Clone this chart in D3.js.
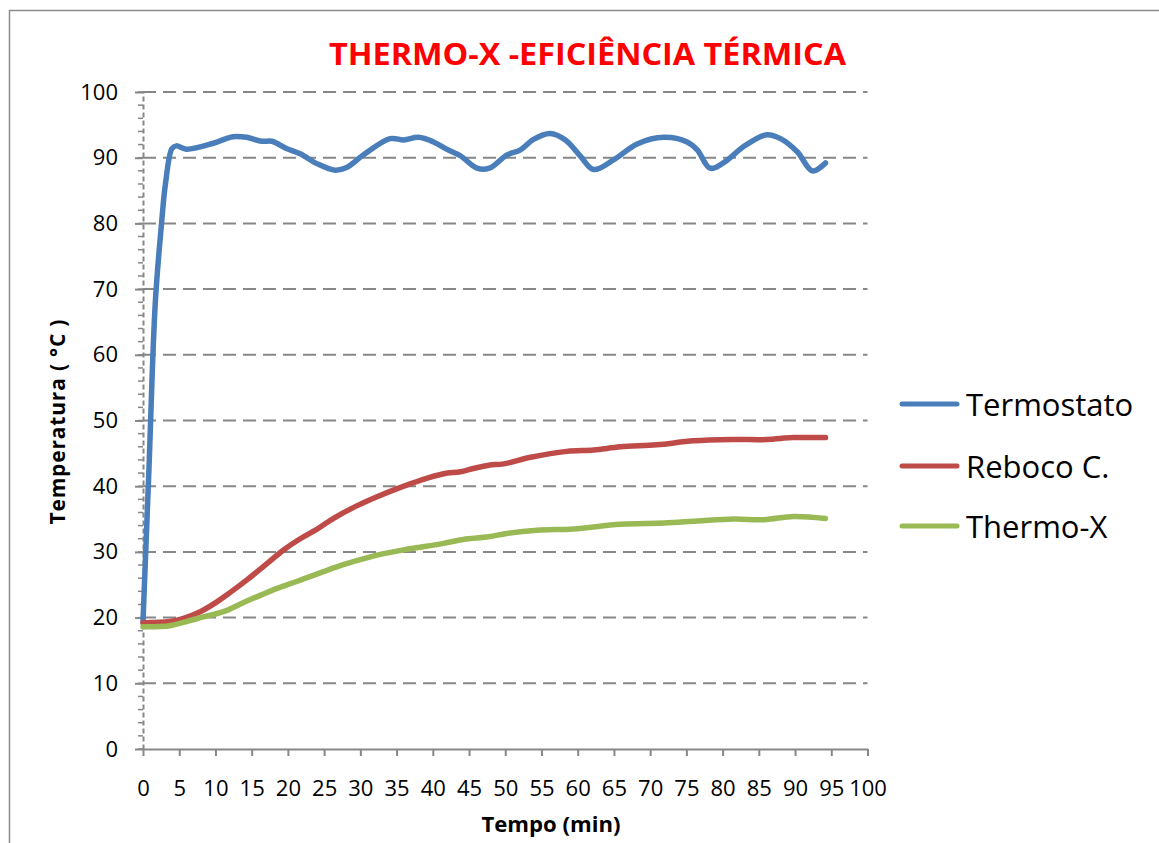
<!DOCTYPE html>
<html>
<head>
<meta charset="utf-8">
<script src="https://cdn.jsdelivr.net/npm/d3@7"></script>
<style>
  body { margin: 0; background: #fff; }
  text { font-family: "Open Sans", "Noto Sans", sans-serif; }
</style>
</head>
<body>
<div id="chart"></div>
<script>
// values
var seriesNames = ["Termostato", "Reboco C.", "Thermo-X"];

var termostatoTime = [0, 0.8, 1.7, 2.6, 3.1, 4.0, 4.6, 6.0, 9.7, 12.4, 14.3, 16.4, 17.8, 19.8, 21.7, 24.0, 26.5, 28.1, 30.4, 34.1, 36.0, 38.0, 40.1, 41.9, 43.8, 46.1, 47.8, 50.2, 52.1, 53.9, 56.2, 58.3, 60.4, 62.2, 65.0, 68.2, 71.9, 75.1, 76.5, 78.3, 80.6, 82.9, 86.1, 88.0, 90.3, 92.4, 94.2];
var termostatoTemp = [19.4, 42, 68, 80.5, 86, 91.4, 91.8, 91.3, 92.2, 93.2, 93.1, 92.5, 92.5, 91.4, 90.6, 89.1, 88.1, 88.5, 90.4, 92.9, 92.7, 93.1, 92.4, 91.3, 90.3, 88.4, 88.4, 90.4, 91.2, 92.8, 93.7, 92.7, 90.2, 88.2, 89.7, 92.1, 93.1, 92.4, 91.2, 88.4, 89.6, 91.7, 93.5, 92.9, 90.9, 88.0, 89.2];

var rebocoTime = [0, 3.7, 5.6, 7.9, 10.2, 12, 14.3, 17.1, 19.4, 21.7, 23.8, 26.3, 29.5, 32.3, 35.0, 38.3, 41.5, 43.8, 45.6, 47.7, 49.8, 53.5, 58.5, 62.2, 65.9, 70.9, 76.0, 81.5, 86.1, 89.8, 94.2];
var rebocoTemp = [19.2, 19.4, 19.9, 20.9, 22.4, 23.8, 25.7, 28.2, 30.3, 32.0, 33.3, 35.1, 37.0, 38.4, 39.6, 40.9, 41.9, 42.2, 42.7, 43.2, 43.4, 44.4, 45.3, 45.5, 46.0, 46.3, 46.9, 47.1, 47.1, 47.4, 47.4];

var thermoTime = [0, 3.7, 6.0, 8.3, 11.1, 13.9, 17.5, 21.2, 24.9, 28.1, 32.3, 36.4, 41.5, 44.2, 47.7, 50.2, 54.4, 59.4, 65.9, 71.9, 76.5, 81.5, 85.7, 89.8, 94.2];
var thermoTemp = [18.6, 18.75, 19.4, 20.1, 20.9, 22.3, 24.0, 25.5, 27.0, 28.2, 29.5, 30.4, 31.3, 31.9, 32.3, 32.8, 33.3, 33.5, 34.2, 34.4, 34.7, 35.0, 34.9, 35.4, 35.1];

var xTicks = d3.range(0, 101, 5);
var yTicks = d3.range(0, 101, 10);
var yMinorTicks = d3.range(0, 101, 2);

var colors = ["#4A7EBB", "#BE4B48", "#98B954"];

function zipSeries(t, v) {
  return t.map(function (d, i) { return { time: d, temp: v[i] }; });
}
var series = [
  zipSeries(termostatoTime, termostatoTemp),
  zipSeries(rebocoTime, rebocoTemp),
  zipSeries(thermoTime, thermoTemp)
];

var width = 1159, height = 843;

var svg = d3.select("#chart")
  .append("svg")
    .attr("width", width)
    .attr("height", height);

// outer chart frame (cut off at right/bottom)
svg.append("path")
  .attr("d", "M9.5," + (height + 5) + " V10.5 H" + (width + 5))
  .attr("fill", "none")
  .attr("stroke", "#8c8c8c")
  .attr("stroke-width", 1.5);

var x = d3.scaleLinear().domain([0, 100]).range([143, 867.5]);
var y = d3.scaleLinear().domain([0, 100]).range([749, 92]);

// horizontal dashed grid
svg.append("g")
  .selectAll("line")
  .data(yTicks.filter(function (d) { return d > 0; }))
  .enter()
  .append("line")
    .attr("x1", x(0))
    .attr("x2", x(100))
    .attr("y1", function (d) { return y(d); })
    .attr("y2", function (d) { return y(d); })
    .attr("stroke", "#878787")
    .attr("stroke-width", 2)
    .attr("stroke-dasharray", "13,7");

// minor ticks on the y axis
svg.append("g")
  .selectAll("line")
  .data(yMinorTicks)
  .enter()
  .append("line")
    .attr("x1", x(0) - 5)
    .attr("x2", x(0))
    .attr("y1", function (d) { return y(d); })
    .attr("y2", function (d) { return y(d); })
    .attr("stroke", "#878787")
    .attr("stroke-width", 1.5);

// y axis
var yAxis = svg.append("g")
  .attr("transform", "translate(" + x(0) + ",0)")
  .call(d3.axisLeft(y).tickValues(yTicks).tickSize(8).tickSizeOuter(0).tickPadding(17));
yAxis.select(".domain")
  .attr("stroke", "#878787")
  .attr("stroke-width", 2)
  .attr("stroke-dasharray", "5,3");
yAxis.selectAll(".tick line").attr("stroke", "#878787").attr("stroke-width", 2);
yAxis.selectAll(".tick text")
  .attr("fill", "#000")
  .style("font-size", "22px")
  .style("font-family", "'Open Sans', sans-serif");

// x axis
var xAxis = svg.append("g")
  .attr("transform", "translate(0," + y(0) + ")")
  .call(d3.axisBottom(x).tickValues(xTicks).tickSize(7).tickSizeOuter(0).tickPadding(24));
xAxis.select(".domain").attr("stroke", "#878787").attr("stroke-width", 2);
xAxis.selectAll(".tick line").attr("stroke", "#878787").attr("stroke-width", 2);
xAxis.selectAll(".tick text")
  .attr("fill", "#000")
  .style("font-size", "22px")
  .style("font-family", "'Open Sans', sans-serif");

// the lines
var line = d3.line()
  .curve(d3.curveCatmullRom.alpha(0.5))
  .x(function (d) { return x(d.time); })
  .y(function (d) { return y(d.temp); });

svg.append("g")
  .selectAll("path")
  .data(series)
  .enter()
  .append("path")
    .attr("fill", "none")
    .attr("stroke", function (d, i) { return colors[i]; })
    .attr("stroke-width", 5.5)
    .attr("stroke-linejoin", "round")
    .attr("stroke-linecap", "round")
    .attr("d", line);

// title
svg.append("text")
  .attr("x", 329)
  .attr("y", 65)
  .attr("textLength", 517)
  .attr("lengthAdjust", "spacingAndGlyphs")
  .attr("fill", "#ff0000")
  .style("font-size", "30px")
  .style("font-weight", "bold")
  .text("THERMO-X -EFICIÊNCIA TÉRMICA");

// axis titles
svg.append("text")
  .attr("x", 551)
  .attr("y", 832)
  .attr("text-anchor", "middle")
  .attr("textLength", 139)
  .attr("lengthAdjust", "spacingAndGlyphs")
  .style("font-size", "21px")
  .style("font-weight", "bold")
  .text("Tempo (min)");

svg.append("text")
  .attr("transform", "translate(65,422) rotate(-90)")
  .attr("text-anchor", "middle")
  .attr("textLength", 205)
  .attr("lengthAdjust", "spacing")
  .style("font-size", "21px")
  .style("font-weight", "bold")
  .text("Temperatura ( °C )");

// legend
var legend = svg.append("g")
  .selectAll("g")
  .data(seriesNames)
  .enter()
  .append("g")
    .attr("transform", function (d, i) { return "translate(902," + [404, 466, 526][i] + ")"; });
legend.append("line")
  .attr("x1", 0).attr("x2", 55)
  .attr("stroke", function (d, i) { return colors[i]; })
  .attr("stroke-width", 5)
  .attr("stroke-linecap", "round");
legend.append("text")
  .attr("x", 64)
  .attr("y", 12)
  .style("font-size", "31px")
  .text(function (d) { return d; });
</script>
</body>
</html>
